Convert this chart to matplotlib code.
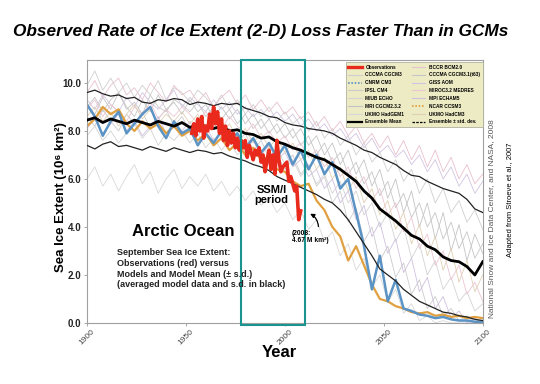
#===[IMPORTS]===#
import matplotlib
matplotlib.use("Agg")
import matplotlib.pyplot as plt #For making plots
import numpy as np #For the year arrays
from matplotlib.lines import Line2D #For the legend handles
from matplotlib.patches import Rectangle #For the SSM/I box

plt.rcParams['font.family'] = ['Liberation Sans', 'DejaVu Sans']

#===[DATA]===#
# models are read off every 4 years, observations every year
model_years = np.arange(1900, 2101, 4)
obs_years = np.arange(1953, 2009)

observations = [7.9, 8.3, 7.8, 8.5, 8.0, 8.6, 7.7, 8.2, 8.0, 8.7, 8.1, 9.0, 8.3, 8.8, 7.9, 8.5,
                7.6, 8.2, 7.4, 8.0, 7.5, 7.9, 7.3, 7.7, 7.2, 7.6, 7.3, 7.6, 6.9, 7.4, 7.1, 6.8,
                7.2, 7.0, 7.3, 6.7, 7.0, 6.3, 6.8, 7.2, 6.4, 7.0, 6.2, 7.6, 6.8, 6.3, 6.5, 6.6,
                6.7, 5.9, 6.1, 5.8, 5.5, 5.7, 4.3, 4.67]

ensemble_mean = [8.45, 8.55, 8.35, 8.50, 8.40, 8.30, 8.45, 8.35, 8.25, 8.40, 8.30, 8.20, 8.35,
                 8.15, 8.25, 8.20, 8.10, 8.20, 8.00, 8.05, 7.90, 7.85, 7.70, 7.75, 7.55, 7.45,
                 7.30, 7.20, 7.05, 6.90, 6.80, 6.60, 6.40, 6.15, 5.90, 5.50, 5.20, 4.75, 4.50,
                 4.25, 3.95, 3.65, 3.50, 3.20, 3.05, 2.75, 2.60, 2.55, 2.35, 2.00, 2.55]
ensemble_upper = [9.60, 9.70, 9.55, 9.45, 9.50, 9.35, 9.40, 9.20, 9.15, 9.30, 9.25, 9.35, 9.30,
                  9.10, 9.20, 9.15, 9.05, 9.15, 9.10, 9.15, 8.95, 8.85, 8.75, 8.60, 8.55, 8.35,
                  8.25, 8.20, 8.10, 8.05, 8.00, 7.90, 7.70, 7.55, 7.40, 7.20, 7.10, 6.90, 6.75,
                  6.60, 6.35, 6.15, 6.10, 5.90, 5.75, 5.60, 5.50, 5.40, 5.15, 4.75, 4.60]
ensemble_lower = [7.40, 7.25, 7.45, 7.55, 7.35, 7.40, 7.30, 7.20, 7.35, 7.25, 7.15, 7.30, 7.20,
                  7.10, 7.20, 7.15, 7.05, 7.10, 6.95, 6.85, 6.75, 6.60, 6.50, 6.35, 6.10, 5.95,
                  5.80, 5.65, 5.50, 5.35, 5.15, 5.00, 4.70, 4.30, 3.80, 3.30, 2.80, 2.25, 2.00,
                  1.75, 1.40, 1.15, 0.90, 0.75, 0.60, 0.45, 0.40, 0.30, 0.25, 0.15, 0.10]

cnrm_cm3 = [9.10, 8.60, 7.80, 8.40, 8.80, 7.90, 8.30, 8.70, 9.00, 8.20, 7.70, 8.40, 7.90,
            8.10, 7.40, 7.90, 7.50, 8.00, 7.60, 7.90, 7.30, 7.70, 7.10, 7.50, 6.90, 7.40,
            6.60, 7.20, 6.40, 7.00, 6.20, 6.70, 5.60, 6.00, 4.60, 3.20, 1.40, 2.80, 0.90,
            1.80, 0.60, 0.50, 0.35, 0.30, 0.20, 0.25, 0.15, 0.10, 0.10, 0.05, 0.05]
ncar_ccsm3 = [8.20, 8.50, 9.00, 8.70, 8.90, 8.30, 8.00, 8.40, 8.10, 8.30, 7.90, 8.20, 7.80,
              8.00, 7.60, 7.90, 7.40, 7.70, 7.20, 7.50, 7.00, 7.30, 6.80, 6.90, 6.40, 6.30,
              5.90, 5.70, 5.80, 5.10, 4.70, 4.00, 3.60, 2.60, 3.20, 2.40, 1.60, 1.00, 0.90,
              0.70, 0.60, 0.45, 0.40, 0.45, 0.30, 0.35, 0.25, 0.30, 0.20, 0.25, 0.20]

# the pale model runs
bccr_bcm2 = [9.6, 10.1, 9.4, 9.9, 10.2, 9.5, 9.8, 9.3, 10.0, 9.6, 9.2, 9.9, 9.5,
             9.7, 9.2, 9.6, 9.0, 9.4, 9.7, 9.1, 9.5, 8.9, 9.3, 8.8, 9.2,
             8.7, 9.0, 8.5, 8.8, 8.2, 8.6, 8.0, 8.4, 7.8, 8.2, 7.5, 7.9, 7.3,
             7.8, 7.0, 7.6, 6.8, 7.4, 6.5, 7.2, 6.3, 6.9, 6.0, 6.6, 5.8, 6.2]
cccma_cgcm3 = [9.9, 10.5, 9.7, 10.2, 9.6, 10.0, 9.4, 9.9, 9.5, 10.1, 9.3, 9.8, 9.6,
               9.2, 9.7, 9.4, 9.0, 9.5, 8.9, 9.3, 8.7, 9.1, 8.6, 9.0, 8.4,
               8.8, 8.3, 8.6, 8.0, 8.4, 7.7, 8.1, 7.4, 7.8, 7.0, 7.5, 6.7, 7.1,
               6.3, 6.8, 5.9, 6.4, 5.4, 6.0, 5.0, 5.6, 4.6, 5.1, 4.2, 4.7, 3.9]
cccma_t63 = [9.0, 9.4, 8.8, 9.3, 9.6, 8.9, 9.2, 8.7, 9.5, 9.0, 8.8, 9.3, 9.1,
             8.8, 9.2, 8.6, 9.0, 8.5, 8.9, 8.3, 8.7, 8.1, 8.5, 7.9, 8.3,
             7.7, 8.1, 7.4, 7.8, 7.0, 7.5, 6.7, 7.1, 6.2, 6.7, 5.8, 6.3, 5.3,
             5.9, 4.8, 5.4, 4.4, 5.0, 4.0, 4.6, 3.5, 4.2, 3.1, 3.8, 2.7, 3.3]
giss_aom = [9.3, 8.9, 9.5, 9.1, 8.8, 9.4, 9.0, 9.6, 9.2, 8.9, 9.3, 9.7, 9.0,
            9.4, 9.1, 8.8, 9.3, 8.9, 9.2, 8.7, 9.0, 8.6, 8.9, 8.5, 8.8,
            8.4, 8.7, 8.2, 8.5, 8.0, 8.3, 7.8, 8.1, 7.6, 7.9, 7.3, 7.7, 7.1,
            7.4, 6.9, 7.2, 6.6, 7.0, 6.3, 6.8, 6.0, 6.5, 5.7, 6.2, 5.4, 5.9]
ipsl_cm4 = [8.6, 8.2, 8.9, 8.4, 8.0, 8.7, 8.3, 8.8, 8.1, 8.5, 8.9, 8.2, 8.6,
            8.0, 8.4, 7.9, 8.3, 7.7, 8.1, 7.5, 7.9, 7.2, 7.6, 6.9, 7.3,
            6.6, 7.0, 6.2, 6.6, 5.7, 6.1, 5.0, 5.5, 4.2, 4.8, 3.4, 4.0, 2.6,
            3.2, 1.9, 2.5, 1.2, 1.8, 0.6, 1.1, 0.3, 0.6, 0.1, 0.3, 0.0, 0.1]
miroc_medres = [8.9, 9.3, 8.6, 9.1, 8.8, 8.4, 9.0, 8.7, 9.2, 8.5, 8.9, 8.6, 9.0,
                8.7, 8.3, 8.8, 8.4, 8.1, 8.6, 8.2, 7.9, 8.3, 7.7, 8.0, 7.5,
                7.8, 7.2, 7.5, 6.9, 7.2, 6.5, 6.9, 6.1, 6.5, 5.6, 6.1, 5.1, 5.6,
                4.5, 5.0, 3.8, 4.4, 3.1, 3.7, 2.4, 3.0, 1.8, 2.4, 1.2, 1.7, 0.9]
miub_echo = [7.8, 8.2, 7.6, 8.0, 7.5, 7.9, 8.3, 7.7, 8.1, 7.4, 7.9, 7.6, 8.0,
             7.5, 7.9, 7.3, 7.7, 7.2, 7.6, 7.0, 7.4, 6.8, 7.2, 6.6, 7.0,
             6.4, 6.8, 6.1, 6.5, 5.8, 6.2, 5.4, 5.9, 5.0, 5.5, 4.5, 5.0, 4.0,
             4.6, 3.4, 4.0, 2.7, 3.3, 2.0, 2.6, 1.4, 1.9, 0.9, 1.3, 0.5, 0.8]
mpi_echam5 = [8.1, 8.5, 7.9, 8.3, 8.7, 8.0, 8.4, 7.8, 8.2, 8.6, 7.9, 8.3, 8.0,
              8.4, 7.8, 8.2, 7.6, 8.0, 7.4, 7.8, 7.2, 7.6, 7.0, 7.4, 6.8,
              7.1, 6.5, 6.8, 6.1, 6.4, 5.6, 6.0, 5.0, 5.5, 4.3, 4.9, 3.6, 4.2,
              2.9, 3.5, 2.1, 2.7, 1.3, 1.9, 0.6, 1.1, 0.2, 0.5, 0.0, 0.2, 0.0]
mri_cgcm = [9.1, 8.7, 9.4, 8.9, 9.6, 9.0, 8.6, 9.3, 8.8, 9.5, 8.9, 9.2, 8.7,
            9.3, 8.8, 9.1, 8.6, 9.0, 8.5, 8.9, 8.3, 8.7, 8.1, 8.5, 7.9,
            8.3, 7.7, 8.1, 7.4, 7.8, 7.0, 7.5, 6.6, 7.2, 6.2, 6.8, 5.7, 6.4,
            5.2, 6.0, 4.6, 5.5, 4.0, 5.0, 3.5, 4.6, 3.0, 4.1, 2.6, 3.7, 2.9]
ukmo_hadgem1 = [6.0, 6.5, 5.7, 6.2, 5.5, 6.1, 6.6, 5.8, 6.3, 5.4, 6.0, 6.4, 5.6,
                6.1, 5.7, 6.2, 5.5, 5.9, 5.3, 5.7, 5.1, 5.5, 4.9, 5.2, 4.6,
                5.0, 4.3, 4.7, 3.9, 4.3, 3.4, 3.8, 2.8, 3.3, 2.2, 2.7, 1.5, 2.0,
                0.9, 1.4, 0.4, 0.8, 0.1, 0.3, 0.0, 0.1, 0.0, 0.0, 0.0, 0.0, 0.0]
ukmo_hadcm3 = [8.6, 9.0, 8.4, 8.8, 8.2, 8.7, 9.1, 8.5, 8.9, 8.3, 8.7, 8.4, 8.8,
               8.3, 8.7, 8.1, 8.5, 7.9, 8.3, 7.7, 8.1, 7.5, 7.9, 7.3, 7.7,
               7.1, 7.5, 6.8, 7.2, 6.4, 6.9, 6.0, 6.5, 5.5, 6.1, 5.0, 5.6, 4.5,
               5.1, 3.9, 4.6, 3.3, 4.1, 2.8, 3.6, 2.2, 3.1, 1.7, 2.6, 1.3, 2.0]

# name, values, colour of each pale run
pale_runs = [("CCCMA CGCM3", cccma_cgcm3, "#cfcfcf"),
             ("IPSL CM4", ipsl_cm4, "#cbcbcb"),
             ("MIUB ECHO", miub_echo, "#d3d3d3"),
             ("MRI CGCM2.3.2", mri_cgcm, "#c4c4c4"),
             ("UKMO HadGEM1", ukmo_hadgem1, "#d8d8d8"),
             ("BCCR BCM2.0", bccr_bcm2, "#e8c0ce"),
             ("CCCMA CGCM3.1(t63)", cccma_t63, "#c6c6c6"),
             ("GISS AOM", giss_aom, "#d2c4e0"),
             ("MIROC3.2 MEDRES", miroc_medres, "#ecc6d2"),
             ("MPI ECHAM5", mpi_echam5, "#cec0de"),
             ("UKMO HadCM3", ukmo_hadcm3, "#e0d0b4")]
pale_col = {name: col for name, vals, col in pale_runs}

#===[THE PLOT]===#
fig = plt.figure(figsize=(5.4, 3.84), dpi=100)
ax = fig.add_axes([0.161, 0.159, 0.733, 0.685])

for name, vals, col in pale_runs: # all the faint model lines first
    ax.plot(model_years, vals, color=col, lw=0.6, zorder=1)

ax.plot(model_years, ncar_ccsm3, color="#e0a040", lw=1.6, zorder=2)
ax.plot(model_years, cnrm_cm3, color="#5b93c4", lw=1.8, zorder=2)
ax.plot(model_years, ensemble_upper, color="#222222", lw=0.9, zorder=3)
ax.plot(model_years, ensemble_lower, color="#222222", lw=0.9, zorder=3)
ax.plot(model_years, ensemble_mean, color="black", lw=2.0, zorder=4)
ax.plot(obs_years, observations, color="#e8291c", lw=2.6, zorder=5)

# SSM/I box
ax.add_patch(Rectangle((1978, -0.08), 32, 11.02, fill=False, edgecolor="#1a9490",
                       lw=1.5, clip_on=False, zorder=6))

ax.set_xlim(1900, 2100)
ax.set_ylim(0, 10.96)
ax.set_yticks([0, 2, 4, 6, 8, 10])
ax.set_yticklabels(["0.0", "2.0", "4.0", "6.0", "8.0", "10.0"], fontsize=7, fontweight="bold", color="#222222")
ax.set_xticks([1900, 1950, 2000, 2050, 2100])
ax.set_xticklabels(["1900", "1950", "2000", "2050", "2100"], fontsize=6, rotation=45, color="#444444")
ax.tick_params(length=2, width=0.6, color="#999999", pad=2)
for s in ax.spines.values():
    s.set_color("#a0a0a0")
    s.set_linewidth(0.8)

# legend with handles that look like the original
left_col = [("Observations", dict(color="#e8291c", lw=2.4)),
            ("CCCMA CGCM3", dict(color=pale_col["CCCMA CGCM3"], lw=0.8)),
            ("CNRM CM3", dict(color="#5b93c4", lw=1.2, ls=(0, (1, 1)))),
            ("IPSL CM4", dict(color=pale_col["IPSL CM4"], lw=0.8)),
            ("MIUB ECHO", dict(color=pale_col["MIUB ECHO"], lw=0.8)),
            ("MRI CGCM2.3.2", dict(color=pale_col["MRI CGCM2.3.2"], lw=0.8)),
            ("UKMO HadGEM1", dict(color=pale_col["UKMO HadGEM1"], lw=0.8)),
            ("Ensemble Mean", dict(color="black", lw=1.6))]
right_col = [("BCCR BCM2.0", dict(color=pale_col["BCCR BCM2.0"], lw=0.8)),
             ("CCCMA CGCM3.1(t63)", dict(color=pale_col["CCCMA CGCM3.1(t63)"], lw=0.8)),
             ("GISS AOM", dict(color=pale_col["GISS AOM"], lw=0.8)),
             ("MIROC3.2 MEDRES", dict(color=pale_col["MIROC3.2 MEDRES"], lw=0.8)),
             ("MPI ECHAM5", dict(color=pale_col["MPI ECHAM5"], lw=0.8)),
             ("NCAR CCSM3", dict(color="#e0a040", lw=1.2, ls=(0, (1, 1)))),
             ("UKMO HadCM3", dict(color=pale_col["UKMO HadCM3"], lw=0.8)),
             ("Ensemble \u00b1 std. dev.", dict(color="black", lw=0.9, ls=(0, (2, 1))))]
handles = [Line2D([], [], **kw) for lab, kw in left_col + right_col]
labels = [lab for lab, kw in left_col + right_col]
leg = ax.legend(handles, labels, ncol=2, loc="upper right", bbox_to_anchor=(1.0, 0.993),
                prop=dict(size=3.4, weight="bold"), handlelength=2.8, handletextpad=0.8,
                columnspacing=1.6, labelspacing=0.6, borderpad=0.6, fancybox=False,
                framealpha=1, borderaxespad=0.0)
leg.get_frame().set_facecolor("#ecebc4")
leg.get_frame().set_edgecolor("#b0b0a0")
leg.get_frame().set_linewidth(0.6)
leg.set_zorder(7)

# texts inside the plot
ax.text(1923, 3.83, "Arctic Ocean", fontsize=12, fontweight="bold", va="center", ha="left", zorder=8)
ax.text(1915.3, 3.12, "September Sea Ice Extent:\nObservations (red) versus\nModels and Model Mean (\u00b1 s.d.)\n"
        "(averaged model data and s.d. in black)", fontsize=6.5, fontweight="bold",
        va="top", ha="left", linespacing=1.25, color="#222222", zorder=8)
ax.text(1993.4, 5.33, "SSM/I\nperiod", fontsize=8, fontweight="bold", ha="center", va="center",
        linespacing=1.1, zorder=8)
ax.text(2003.5, 3.58, "(2008:\n4.67 M km\u00b2)", fontsize=4.8, fontweight="bold", ha="left", va="center",
        linespacing=1.0, zorder=8)
ax.annotate("", xy=(2011.5, 4.6), xytext=(2017, 3.9),
            arrowprops=dict(arrowstyle="-|>", connectionstyle="arc3,rad=0.35", lw=0.9,
                            color="black", mutation_scale=6), zorder=8)

# texts around the plot
fig.text(0.483, 0.919, "Observed Rate of Ice Extent (2-D) Loss Faster Than in GCMs",
         fontsize=12.4, fontweight="bold", style="italic", ha="center", va="center")
fig.text(0.113, 0.487, "Sea Ice Extent (10\u2076 km\u00b2)", fontsize=9.5, fontweight="bold",
         rotation=90, ha="center", va="center")
fig.text(0.518, 0.083, "Year", fontsize=12, fontweight="bold", ha="center", va="center")
fig.text(0.910, 0.431, "National Snow and Ice Data Center, and NASA, 2008", fontsize=6,
         color="#555555", rotation=90, ha="center", va="center")
fig.text(0.946, 0.479, "Adapted from Stroeve et al., 2007", fontsize=5.5,
         rotation=90, ha="center", va="center")

fig.savefig("out.png", dpi=100)
